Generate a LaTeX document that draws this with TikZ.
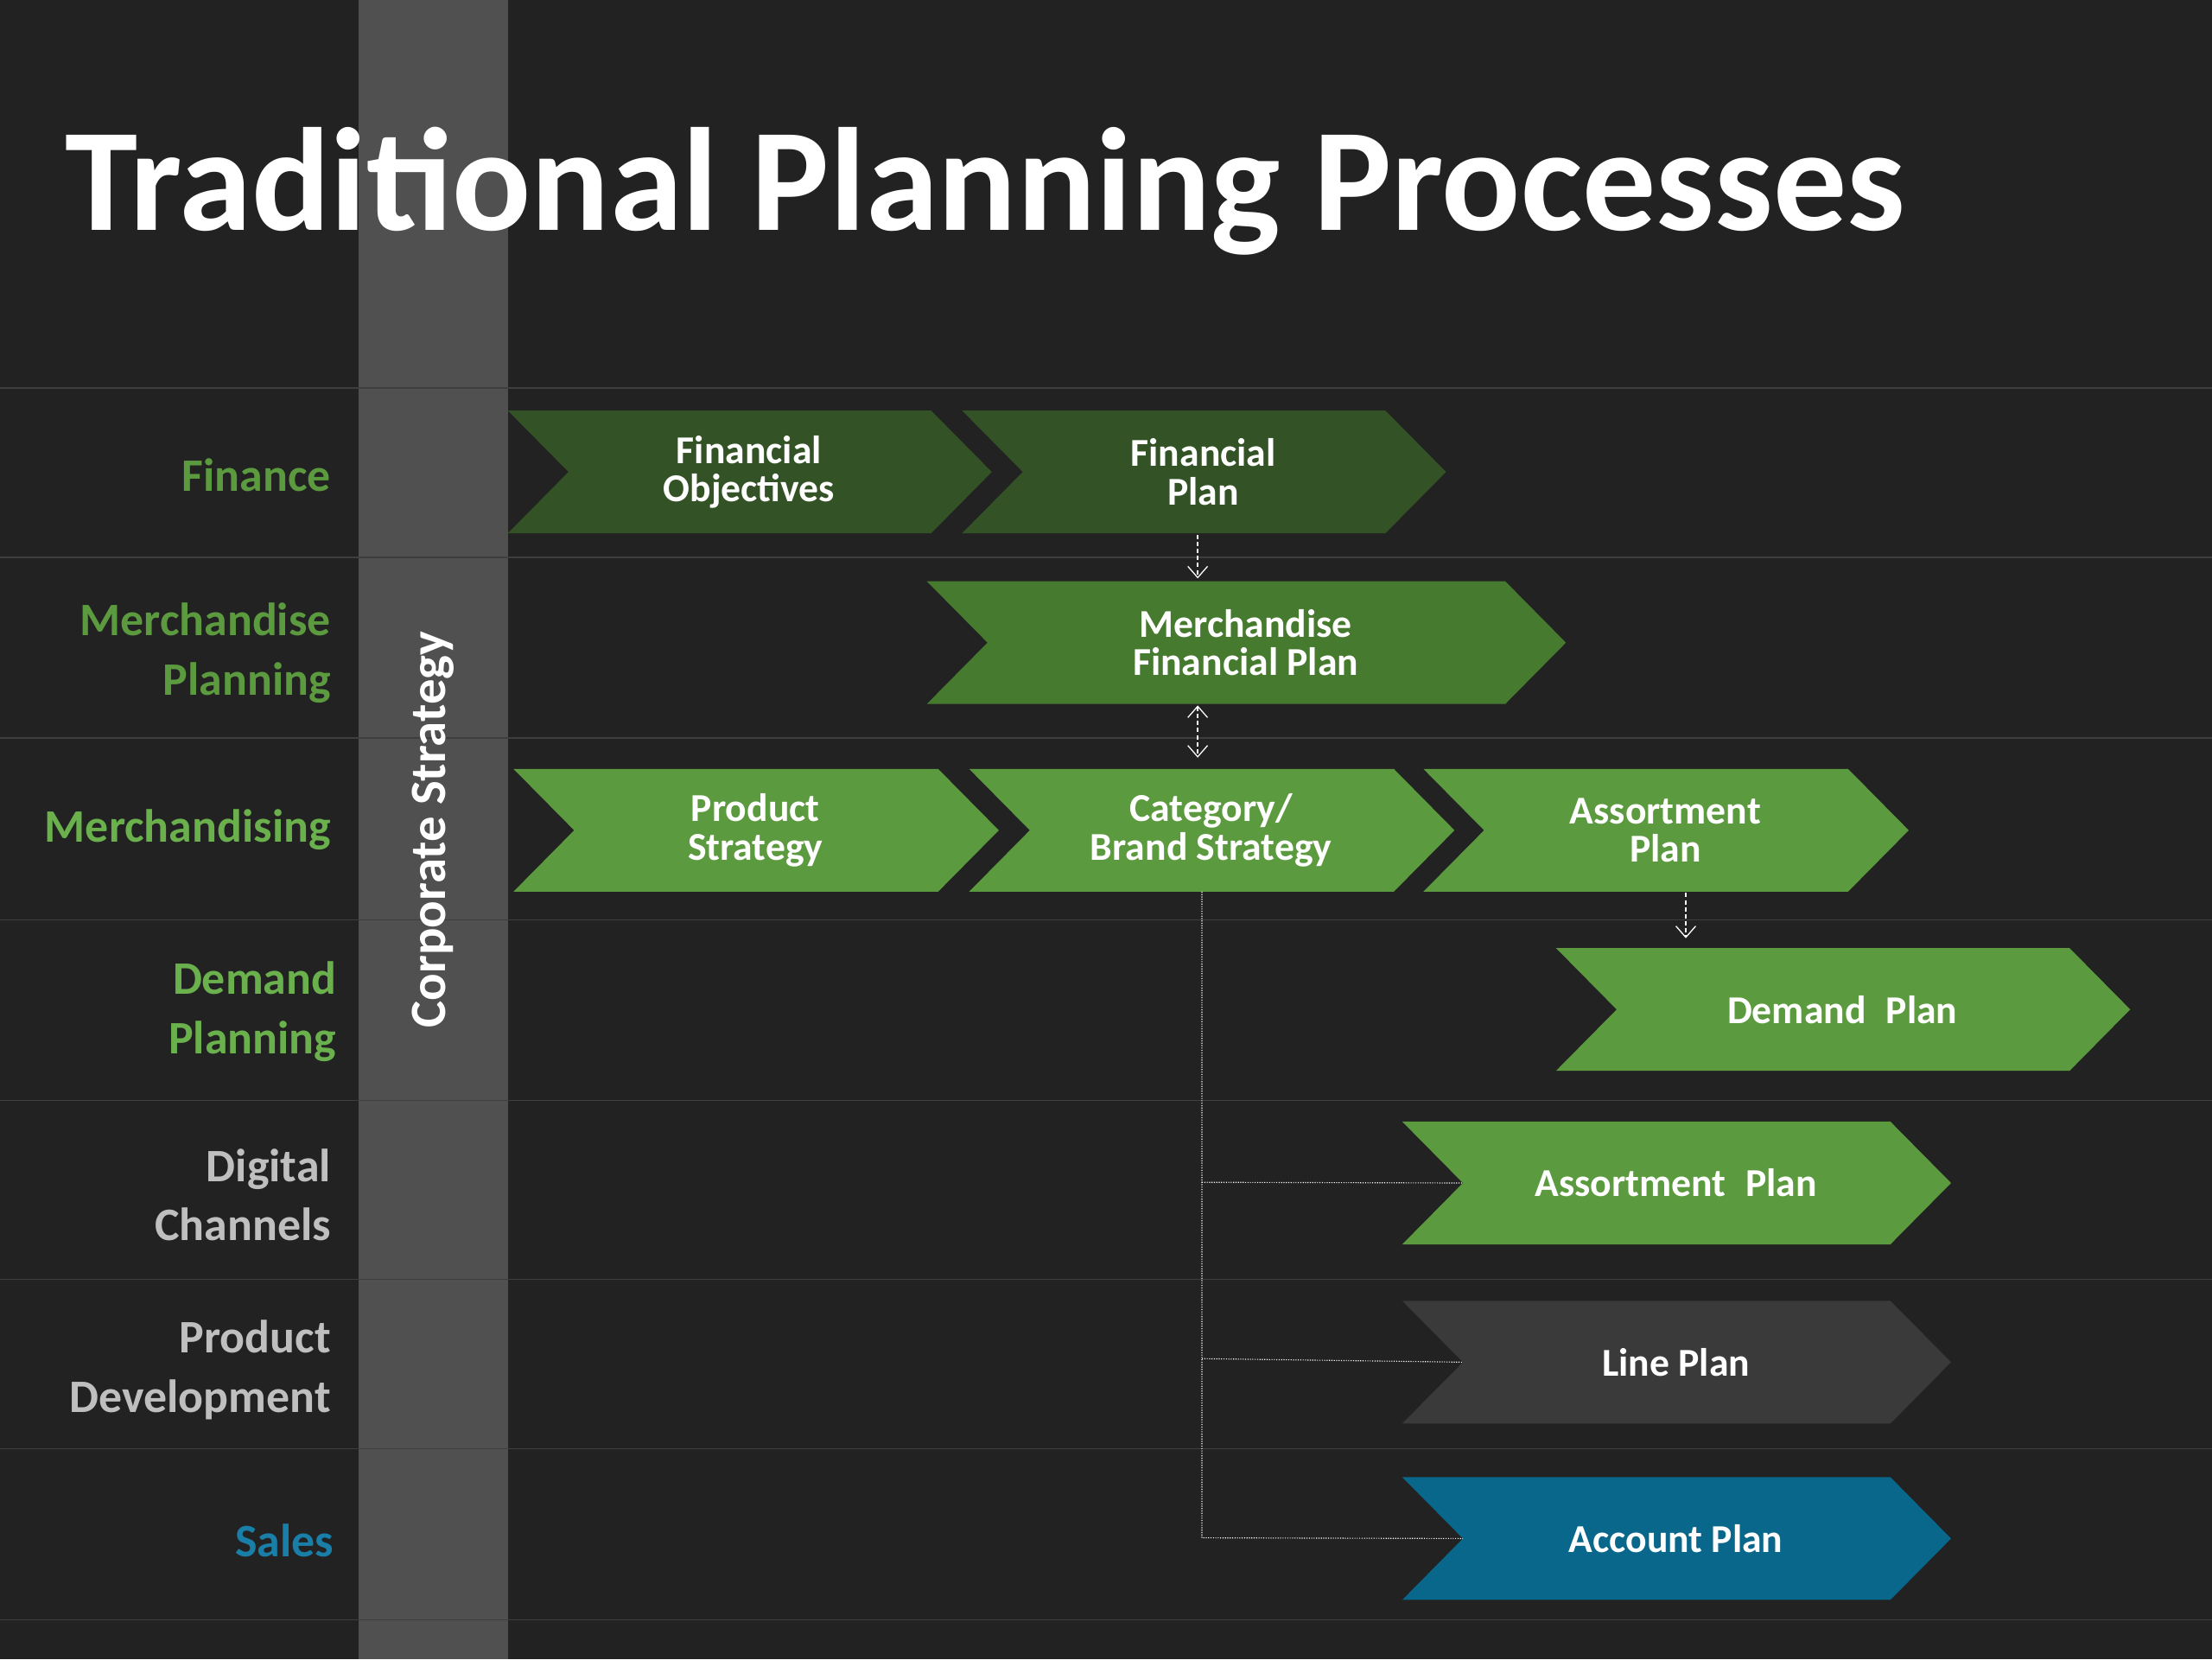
\documentclass[tikz,border=0pt]{standalone}
\usepackage{fontspec}
\setmainfont{Carlito}
\definecolor{bg}{HTML}{222222}
\definecolor{bar}{HTML}{505050}
\definecolor{rule}{HTML}{3E3E3E}
\definecolor{dkgreen}{HTML}{335326}
\definecolor{mdgreen}{HTML}{467A2F}
\definecolor{ltgreen}{HTML}{5C9A3F}
\definecolor{lblgreen}{HTML}{5C9A3F}
\definecolor{brgreen}{HTML}{6AB04C}
\definecolor{gray1}{HTML}{3A3A3A}
\definecolor{blue1}{HTML}{08678A}
\definecolor{lblgray}{HTML}{BFBFBF}
\definecolor{lblblue}{HTML}{1A7FA8}
\tikzset{
 ctext/.style={text=white,font=\fontsize{28}{27}\selectfont\bfseries,align=center},
 lbl/.style={font=\fontsize{33}{42}\selectfont\bfseries,align=right,anchor=east},
 conn/.style={white,densely dashed,line width=0.8pt},
 connarrow/.style={conn,-{Straight Barb[length=8pt,width=14pt]}},
}
\usetikzlibrary{arrows.meta}
\newcommand{\chev}[7]{%
 \fill[#6] (#2,#4) -- (#3,#4) -- ({#3+43},{(#4+#5)/2}) -- (#3,#5) -- (#2,#5) -- ({#2+43},{(#4+#5)/2}) -- cycle;
 \coordinate (#1-top) at ({(#2+#3)/2+21},#4);
 \coordinate (#1-bot) at ({(#2+#3)/2+21},#5);
 \coordinate (#1-notch) at ({#2+43},{(#4+#5)/2});
 \node[ctext] (#1) at ({(#2+#3)/2+21},{(#4+#5)/2}) {#7};}
\begin{document}
\begin{tikzpicture}[x=1pt,y=-1pt]
\fill[bg] (0,0) rectangle (1568,1176);
\useasboundingbox (0,0) rectangle (1568,1176);
\fill[bar] (254,0) rectangle (360,1176);
\foreach \y in {275,395,523,652,780,907,1027,1148}
  \draw[rule,line width=0.8pt] (0,\y) -- (1568,\y);
\node[anchor=base west,text=white,font=\fontsize{104}{110}\selectfont\bfseries,inner sep=0] (title) at (46,163) {Traditional Planning Processes};
\node[rotate=90,text=white,font=\fontsize{36}{40}\selectfont\bfseries] (corp) at (307,588) {Corporate Strategy};
\node[lbl,text=lblgreen] (l1) at (238,337) {Finance};
\node[lbl,text=lblgreen] (l2) at (238,463) {Merchandise\\Planning};
\node[lbl,text=brgreen] (l3) at (238,588) {Merchandising};
\node[lbl,text=brgreen] (l4) at (242,717) {Demand\\Planning};
\node[lbl,text=lblgray] (l5) at (238,847) {Digital\\Channels};
\node[lbl,text=lblgray] (l6) at (238,971) {Product\\Development};
\node[lbl,text=lblblue] (l7) at (240,1092) {Sales};
\chev{fo}{360}{660}{291}{378}{dkgreen}{Financial\\Objectives}
\chev{fp}{682}{982}{291}{378}{dkgreen}{Financial\\Plan}
\chev{mfp}{657}{1067}{412}{499}{mdgreen}{Merchandise\\Financial Plan}
\chev{ps}{364}{665}{545}{632}{ltgreen}{Product\\Strategy}
\chev{cb}{687}{988}{545}{632}{ltgreen}{Category/\\Brand Strategy}
\chev{ap}{1009}{1310}{545}{632}{ltgreen}{Assortment\\Plan}
\chev{dp}{1103}{1467}{672}{759}{ltgreen}{Demand\enspace Plan}
\chev{ap2}{994}{1340}{795}{882}{ltgreen}{Assortment\enspace Plan}
\chev{lp}{994}{1340}{922}{1009}{gray1}{Line Plan}
\chev{acp}{994}{1340}{1047}{1134}{blue1}{Account Plan}
\draw[connarrow] (849,379) -- (849,410);
\draw[conn,{Straight Barb[length=8pt,width=14pt]}-{Straight Barb[length=8pt,width=14pt]}] (849,500) -- (849,537);
\draw[connarrow] (1195,633) -- (1195,665);
\draw[white,densely dotted,line width=0.7pt] (852,632) -- (852,1090) -- (acp-notch);
\draw[white,densely dotted,line width=0.7pt] (852,838) -- (ap2-notch);
\draw[white,densely dotted,line width=0.7pt] (852,963) -- (lp-notch);
\end{tikzpicture}
\end{document}
